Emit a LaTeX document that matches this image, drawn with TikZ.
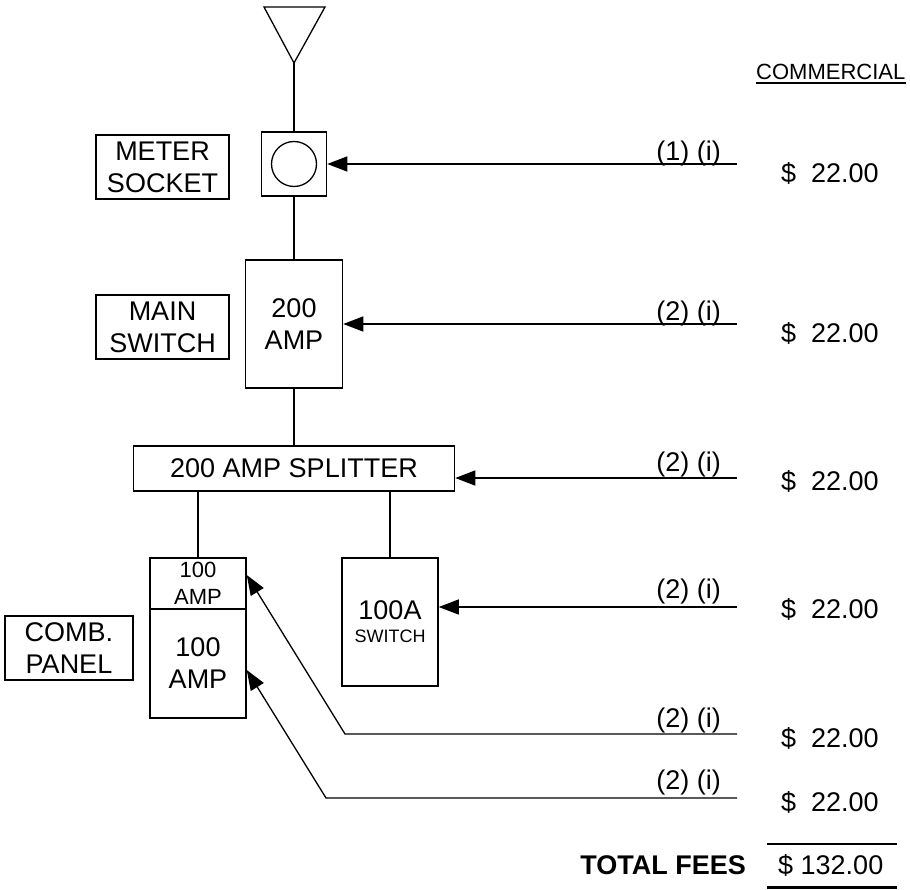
\documentclass[tikz,border=0pt]{standalone}
\usepackage{fontspec}
\setmainfont{Liberation Sans}
\usetikzlibrary{arrows.meta}
\begin{document}
\begin{tikzpicture}[x=1pt,y=-1pt,
  box/.style={draw,line width=1.5pt,inner sep=0pt,align=center,font=\fontsize{27}{32}\selectfont},
  wire/.style={line width=1.3pt},
  feed/.style={line width=1.3pt,-{Triangle[length=20pt,width=15pt]}},
  txt/.style={inner sep=0pt,font=\fontsize{27}{32}\selectfont},
  price/.style={txt,anchor=base west},
  code/.style={txt,anchor=base east},
]
\useasboundingbox (0,0) rectangle (910,890);

% antenna
\draw[wire] (264,7) -- (325,7) -- (294,63) -- cycle;
\coordinate (ant) at (294,63);

% equipment
\node[box,minimum width=65pt,minimum height=64pt] (meter) at (294,164) {};
\node[draw,circle,line width=1.3pt,minimum size=45pt,inner sep=0pt] (dial) at (meter.center) {};
\node[box,minimum width=97pt,minimum height=128pt] (main) at (294,324) {200\\AMP};
\node[box,minimum width=321pt,minimum height=45pt] (split) at (294,468.5) {200 AMP SPLITTER};
\node[box,minimum width=96pt,minimum height=51pt,font=\fontsize{22}{27}\selectfont] (combtop) at (198,583.5) {100\\AMP};
\node[box,minimum width=96pt,minimum height=109pt] (combbot) at (198,663.5) {100\\AMP};
\node[box,minimum width=96pt,minimum height=128pt] (sw) at (390,622) {100A\\[-9pt]{\fontsize{18}{18}\selectfont SWITCH}};

% side labels
\node[box,minimum width=133pt,minimum height=64pt] (lmeter) at (162.5,167) {METER\\SOCKET};
\node[box,minimum width=133pt,minimum height=64pt] (lmain) at (162.5,327) {MAIN\\SWITCH};
\node[box,minimum width=128pt,minimum height=64pt] (lcomb) at (69,648) {COMB.\\PANEL};

% wiring
\draw[wire] (ant) -- (meter.north);
\draw[wire] (meter.south) -- (main.north);
\draw[wire] (main.south) -- (split.north);
\draw[wire] (split.south -| combtop.north) -- (combtop.north);
\draw[wire] (split.south -| sw.north) -- (sw.north);

% feeds
\coordinate (f1) at (737,164);
\coordinate (f2) at (737,324);
\coordinate (f3) at (737,478);
\coordinate (f4) at (737,607);
\coordinate (f5) at (737,734);
\coordinate (k5) at (345,734);
\coordinate (f6) at (737,798);
\coordinate (k6) at (326,798);
\draw[feed] (f1) -- (f1 -| meter.east);
\draw[feed] (f2) -- (f2 -| main.east);
\draw[feed] (f3) -- (f3 -| split.east);
\draw[feed] (f4) -- (f4 -| sw.east);
\draw[feed] (f5) -- (k5) -- ([yshift=8.5pt]combtop.east);
\draw[feed] (f6) -- (k6) -- ([yshift=-6.5pt]combbot.east);

% codes
\node[code] (c1) at (721,161) {(1) (i)};
\node[code] (c2) at (721,321) {(2) (i)};
\node[code] (c3) at (721,471) {(2) (i)};
\node[code] (c4) at (721,598) {(2) (i)};
\node[code] (c5) at (721,727) {(2) (i)};
\node[code] (c6) at (721,789) {(2) (i)};

% prices
\node[price] (p1) at (781,183) {\$\ \ 22.00};
\node[price] (p2) at (781,343) {\$\ \ 22.00};
\node[price] (p3) at (781,490) {\$\ \ 22.00};
\node[price] (p4) at (781,618) {\$\ \ 22.00};
\node[price] (p5) at (781,747) {\$\ \ 22.00};
\node[price] (p6) at (781,811) {\$\ \ 22.00};

% header
\node[inner sep=0pt,font=\fontsize{22}{26}\selectfont,anchor=base west] (comm) at (756,80) {COMMERCIAL};
\draw[line width=1.2pt] ([yshift=-3pt]comm.base west) -- ([yshift=-3pt]comm.base east);

% total
\node[txt,font=\bfseries\fontsize{27}{32}\selectfont,anchor=base east] (tot) at (746,874) {TOTAL FEES};
\node[price] (sum) at (778,874) {\$ 132.00};
\draw[line width=1.3pt] (767,844) -- (897,844);
\draw[line width=3.5pt] (767,887.5) -- (897,887.5);
\end{tikzpicture}
\end{document}
